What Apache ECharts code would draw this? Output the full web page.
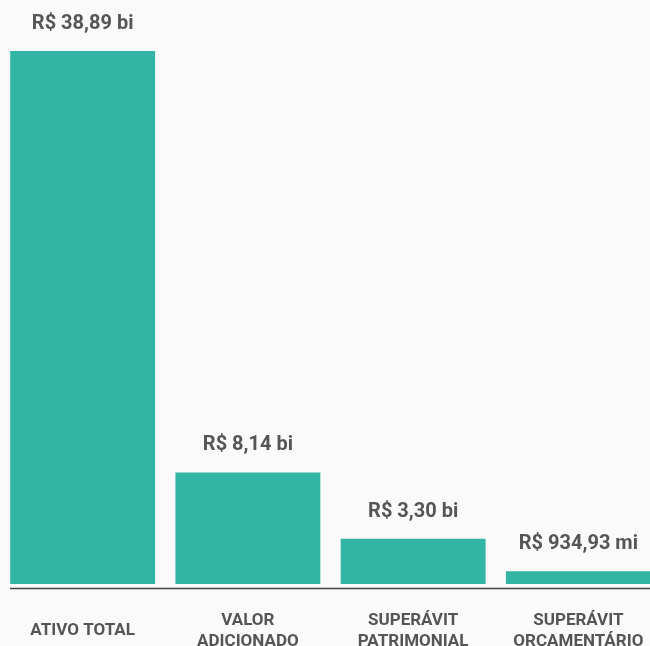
<!DOCTYPE html>
<html>
<head>
<meta charset="utf-8">
<script src="https://cdn.jsdelivr.net/npm/echarts@6/dist/echarts.min.js"></script>
<style>
  html, body { margin: 0; padding: 0; background: #fafafa; }
  #chart { width: 650px; height: 646px; }
</style>
</head>
<body>
<div id="chart"></div>
<script>
// Indicadores financeiros (valores em bilhões de reais)
const categories = ['ATIVO TOTAL', 'VALOR\nADICIONADO', 'SUPERÁVIT\nPATRIMONIAL', 'SUPERÁVIT\nORÇAMENTÁRIO'];
const values = [38.89, 8.14, 3.30, 0.93493];
const valueLabels = ['R$ 38,89 bi', 'R$ 8,14 bi', 'R$ 3,30 bi', 'R$ 934,93 mi'];

const chart = echarts.init(document.getElementById('chart'), null, { renderer: 'canvas' });

const textColor = '#555555';
const font = 'Roboto, "Liberation Sans", sans-serif';

chart.setOption({
  backgroundColor: '#fafafa',
  animation: false,
  grid: { left: 0, top: 51, width: 661, bottom: 62, containLabel: false, outerBoundsMode: 'none' },
  xAxis: {
    type: 'category',
    data: categories,
    axisLine: { show: false },
    axisTick: { show: false },
    axisLabel: {
      interval: 0,
      margin: 47,
      verticalAlign: 'middle',
      color: textColor,
      fontFamily: font,
      fontWeight: 'bold',
      fontSize: 17,
      lineHeight: 21
    }
  },
  yAxis: {
    type: 'value',
    min: 0,
    max: 38.89,
    show: false,
    splitLine: { show: false }
  },
  series: [{
    type: 'bar',
    data: values,
    barCategoryGap: '12.3%',
    itemStyle: { color: '#33b5a5' },
    label: {
      show: true,
      position: 'top',
      distance: 17,
      color: textColor,
      fontFamily: font,
      fontWeight: 'bold',
      fontSize: 20,
      formatter: p => valueLabels[p.dataIndex]
    }
  }],
  graphic: [{
    type: 'line',
    shape: { x1: 10, y1: 588.5, x2: 650, y2: 588.5 },
    style: { stroke: '#444444', lineWidth: 1.5 }
  }]
});
</script>
</body>
</html>
